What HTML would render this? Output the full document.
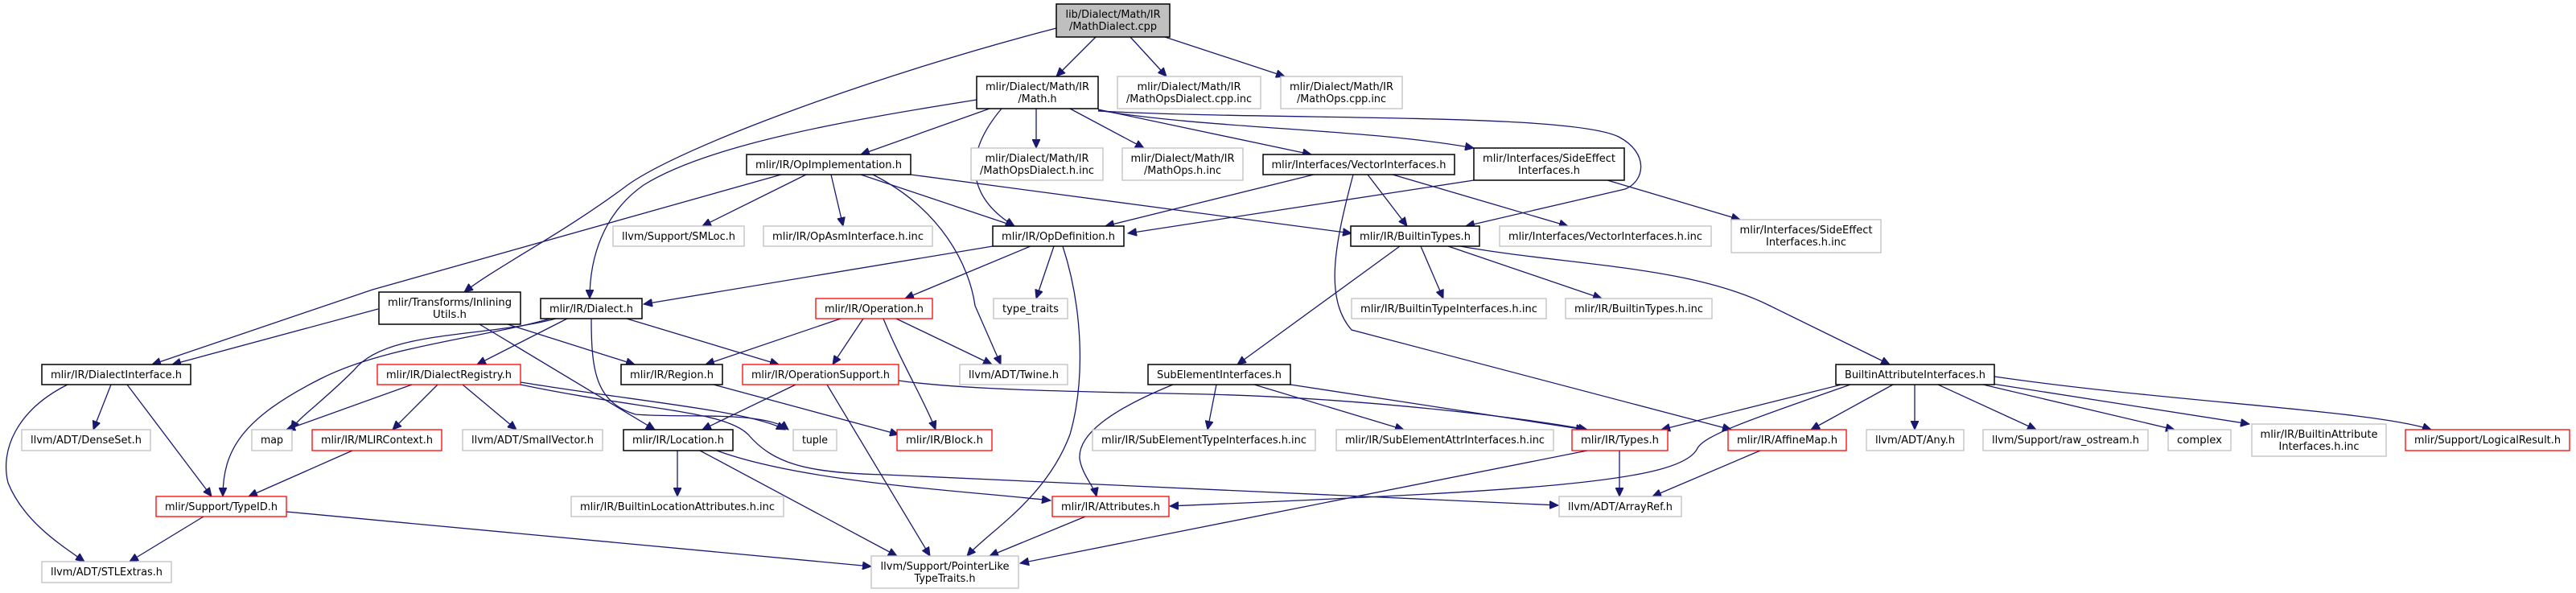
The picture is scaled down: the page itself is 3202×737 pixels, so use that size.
<!DOCTYPE html>
<html><head><meta charset="utf-8"><style>
html,body{margin:0;padding:0;background:#fff;}
svg{display:block;}
text{font-family:"DejaVu Sans","Liberation Sans",sans-serif;font-size:13px;fill:#000;text-anchor:middle;}
.n{fill:#fff;stroke:#bfbfbf;stroke-width:1.3;}
.d{fill:#fff;stroke:#000;stroke-width:1.5;}
.r{fill:#fff;stroke:#ff0000;stroke-width:1.3;}
.e{fill:none;stroke:#191970;stroke-width:1.3;}
</style></head><body>
<svg width="3202" height="737" viewBox="0 0 3202 737" xmlns="http://www.w3.org/2000/svg">
<defs><marker id="a" markerUnits="userSpaceOnUse" markerWidth="12" markerHeight="10" refX="11" refY="5" orient="auto"><path d="M0,0 L11,5 L0,10 z" fill="#191970" stroke="#191970"/></marker></defs>
<g class="edges" marker-end="url(#a)">
<path class="e" d="M1362,46 L1313,95"/>
<path class="e" d="M1405,46 L1450,95"/>
<path class="e" d="M1448,46 L1597,95"/>
<path class="e" d="M1313,35 C1100,90 850,180 780,230 C700,290 620,330 577,363"/>
<path class="e" d="M1230,135 L1070,192"/>
<path class="e" d="M1214,124 C1050,150 880,180 800,230 C750,265 733,320 733,371"/>
<path class="e" d="M1288,135 L1288,184"/>
<path class="e" d="M1330,135 L1422,184"/>
<path class="e" d="M1365,136 L1630,192"/>
<path class="e" d="M1365,137 C1500,160 1700,160 1832,184"/>
<path class="e" d="M1365,138 C1600,150 1950,140 2012,170 C2050,190 2045,225 2020,235 L1822,281"/>
<path class="e" d="M1245,135 C1190,200 1210,250 1261,281"/>
<path class="e" d="M1998,224 L2163,273"/>
<path class="e" d="M971,217 L463,360 L189,453"/>
<path class="e" d="M1002,217 L873,281"/>
<path class="e" d="M1033,217 L1048,281"/>
<path class="e" d="M1070,217 L1261,281"/>
<path class="e" d="M1132,217 L1680,290"/>
<path class="e" d="M1085,217 C1170,260 1205,330 1212,380 L1244,453"/>
<path class="e" d="M1633,217 L1374,281"/>
<path class="e" d="M1700,217 L1749,281"/>
<path class="e" d="M1731,217 L1949,281"/>
<path class="e" d="M1682,217 C1660,300 1645,370 1680,410 L2152,534"/>
<path class="e" d="M1832,224 L1402,290"/>
<path class="e" d="M1740,306 L1538,453"/>
<path class="e" d="M1766,306 L1794,371"/>
<path class="e" d="M1800,306 L1991,371"/>
<path class="e" d="M1815,306 C1950,330 2100,330 2200,380 L2349,453"/>
<path class="e" d="M1234,306 L800,378"/>
<path class="e" d="M1281,306 L1125,371"/>
<path class="e" d="M1310,306 L1288,371"/>
<path class="e" d="M1321,306 C1345,380 1350,470 1330,540 C1300,620 1230,660 1202,691"/>
<path class="e" d="M1045,396 L877,453"/>
<path class="e" d="M1073,396 L1035,453"/>
<path class="e" d="M1114,396 L1233,453"/>
<path class="e" d="M1098,396 C1120,450 1150,500 1163,534"/>
<path class="e" d="M705,396 L593,453"/>
<path class="e" d="M779,396 L968,453"/>
<path class="e" d="M691,396 C600,420 480,410 440,460 C400,500 370,520 362,534"/>
<path class="e" d="M684,396 C600,420 480,430 400,470 C300,520 277,560 277,617"/>
<path class="e" d="M735,396 C735,460 740,500 790,515 C850,520 950,510 980,534"/>
<path class="e" d="M631,403 L789,453"/>
<path class="e" d="M470,384 L214,453"/>
<path class="e" d="M596,403 L814,534"/>
<path class="e" d="M512,478 L356,534"/>
<path class="e" d="M544,478 L488,534"/>
<path class="e" d="M575,478 L642,534"/>
<path class="e" d="M647,475 C800,500 930,510 976,534"/>
<path class="e" d="M647,478 C800,510 900,510 930,540 C960,575 1000,588 1100,590 C1500,610 1800,622 1937,628"/>
<path class="e" d="M891,560 C1000,600 1200,610 1306,622"/>
<path class="e" d="M842,560 L842,617"/>
<path class="e" d="M870,560 L1115,691"/>
<path class="e" d="M989,478 L873,534"/>
<path class="e" d="M1028,478 L1156,691"/>
<path class="e" d="M1117,473 C1200,485 1350,487 1500,490 C1700,495 1900,520 1973,534"/>
<path class="e" d="M1604,478 L1970,534"/>
<path class="e" d="M887,478 L1117,540"/>
<path class="e" d="M253,642 L161,698"/>
<path class="e" d="M356,636 L1083,704"/>
<path class="e" d="M438,560 L309,617"/>
<path class="e" d="M138,478 L116,534"/>
<path class="e" d="M158,478 L263,617"/>
<path class="e" d="M84,478 C20,510 0,560 10,600 C30,650 80,680 105,698"/>
<path class="e" d="M1458,478 C1380,510 1340,540 1342,570 C1345,590 1360,605 1363,617"/>
<path class="e" d="M1512,478 L1501,534"/>
<path class="e" d="M1559,478 L1745,534"/>
<path class="e" d="M2013,560 L2013,617"/>
<path class="e" d="M1973,560 L1268,700"/>
<path class="e" d="M1349,642 L1230,691"/>
<path class="e" d="M2188,560 L2054,617"/>
<path class="e" d="M2289,478 L2065,534"/>
<path class="e" d="M2300,478 C2180,520 2120,540 2110,557 C2090,600 1900,610 1454,629"/>
<path class="e" d="M2353,478 L2251,534"/>
<path class="e" d="M2380,478 L2380,534"/>
<path class="e" d="M2409,478 L2531,534"/>
<path class="e" d="M2465,478 L2703,534"/>
<path class="e" d="M2470,476 L2796,527"/>
<path class="e" d="M2479,468 C2700,500 2950,510 3022,534"/>
</g>
<g class="nodes">
<rect x="1313" y="5" width="141" height="41" fill="#bfbfbf" stroke="#000" stroke-width="1.5"/>
<text x="1383.5" y="22" textLength="118" lengthAdjust="spacingAndGlyphs">lib/Dialect/Math/IR</text>
<text x="1383.5" y="37" textLength="109" lengthAdjust="spacingAndGlyphs">/MathDialect.cpp</text>

<rect class="d" x="1214" y="95" width="151" height="40"/>
<text x="1289.5" y="112" textLength="129" lengthAdjust="spacingAndGlyphs">mlir/Dialect/Math/IR</text>
<text x="1289.5" y="127" textLength="48" lengthAdjust="spacingAndGlyphs">/Math.h</text>

<rect class="n" x="1389" y="95" width="178" height="40"/>
<text x="1478" y="112" textLength="129" lengthAdjust="spacingAndGlyphs">mlir/Dialect/Math/IR</text>
<text x="1478" y="127" textLength="156" lengthAdjust="spacingAndGlyphs">/MathOpsDialect.cpp.inc</text>

<rect class="n" x="1592" y="95" width="151" height="40"/>
<text x="1667.5" y="112" textLength="129" lengthAdjust="spacingAndGlyphs">mlir/Dialect/Math/IR</text>
<text x="1667.5" y="127" textLength="111" lengthAdjust="spacingAndGlyphs">/MathOps.cpp.inc</text>

<rect class="d" x="928" y="192" width="204" height="25"/>
<text x="1030" y="209" textLength="182" lengthAdjust="spacingAndGlyphs">mlir/IR/OpImplementation.h</text>

<rect class="n" x="1207" y="184" width="164" height="40"/>
<text x="1289" y="201" textLength="129" lengthAdjust="spacingAndGlyphs">mlir/Dialect/Math/IR</text>
<text x="1289" y="216" textLength="142" lengthAdjust="spacingAndGlyphs">/MathOpsDialect.h.inc</text>

<rect class="n" x="1395" y="184" width="150" height="40"/>
<text x="1470" y="201" textLength="129" lengthAdjust="spacingAndGlyphs">mlir/Dialect/Math/IR</text>
<text x="1470" y="216" textLength="96" lengthAdjust="spacingAndGlyphs">/MathOps.h.inc</text>

<rect class="d" x="1570" y="192" width="238" height="25"/>
<text x="1689" y="209" textLength="217" lengthAdjust="spacingAndGlyphs">mlir/Interfaces/VectorInterfaces.h</text>

<rect class="d" x="1832" y="184" width="187" height="40"/>
<text x="1925.5" y="201" textLength="165" lengthAdjust="spacingAndGlyphs">mlir/Interfaces/SideEffect</text>
<text x="1925.5" y="216" textLength="77" lengthAdjust="spacingAndGlyphs">Interfaces.h</text>

<rect class="n" x="762" y="281" width="163" height="25"/>
<text x="843.5" y="298" textLength="141" lengthAdjust="spacingAndGlyphs">llvm/Support/SMLoc.h</text>

<rect class="n" x="949" y="281" width="210" height="25"/>
<text x="1054" y="298" textLength="188" lengthAdjust="spacingAndGlyphs">mlir/IR/OpAsmInterface.h.inc</text>

<rect class="d" x="1234" y="281" width="163" height="25"/>
<text x="1315.5" y="298" textLength="141" lengthAdjust="spacingAndGlyphs">mlir/IR/OpDefinition.h</text>

<rect class="d" x="1679" y="281" width="160" height="25"/>
<text x="1759" y="298" textLength="138" lengthAdjust="spacingAndGlyphs">mlir/IR/BuiltinTypes.h</text>

<rect class="n" x="1864" y="281" width="263" height="25"/>
<text x="1995.5" y="298" textLength="241" lengthAdjust="spacingAndGlyphs">mlir/Interfaces/VectorInterfaces.h.inc</text>

<rect class="n" x="2152" y="273" width="186" height="41"/>
<text x="2245" y="290" textLength="165" lengthAdjust="spacingAndGlyphs">mlir/Interfaces/SideEffect</text>
<text x="2245" y="305" textLength="100" lengthAdjust="spacingAndGlyphs">Interfaces.h.inc</text>

<rect class="d" x="471" y="363" width="176" height="40"/>
<text x="559" y="380" textLength="154" lengthAdjust="spacingAndGlyphs">mlir/Transforms/Inlining</text>
<text x="559" y="395" textLength="42" lengthAdjust="spacingAndGlyphs">Utils.h</text>

<rect class="d" x="672" y="371" width="126" height="25"/>
<text x="735" y="388" textLength="104" lengthAdjust="spacingAndGlyphs">mlir/IR/Dialect.h</text>

<rect class="r" x="1014" y="371" width="145" height="25"/>
<text x="1086.5" y="388" textLength="123" lengthAdjust="spacingAndGlyphs">mlir/IR/Operation.h</text>

<rect class="n" x="1235" y="371" width="92" height="25"/>
<text x="1281" y="388" textLength="70" lengthAdjust="spacingAndGlyphs">type_traits</text>

<rect class="n" x="1680" y="371" width="242" height="25"/>
<text x="1801" y="388" textLength="220" lengthAdjust="spacingAndGlyphs">mlir/IR/BuiltinTypeInterfaces.h.inc</text>

<rect class="n" x="1946" y="371" width="182" height="25"/>
<text x="2037" y="388" textLength="160" lengthAdjust="spacingAndGlyphs">mlir/IR/BuiltinTypes.h.inc</text>

<rect class="d" x="52" y="453" width="185" height="25"/>
<text x="144.5" y="470" textLength="163" lengthAdjust="spacingAndGlyphs">mlir/IR/DialectInterface.h</text>

<rect class="r" x="469" y="453" width="178" height="25"/>
<text x="558" y="470" textLength="156" lengthAdjust="spacingAndGlyphs">mlir/IR/DialectRegistry.h</text>

<rect class="d" x="772" y="453" width="126" height="25"/>
<text x="835" y="470" textLength="104" lengthAdjust="spacingAndGlyphs">mlir/IR/Region.h</text>

<rect class="r" x="923" y="453" width="194" height="25"/>
<text x="1020" y="470" textLength="172" lengthAdjust="spacingAndGlyphs">mlir/IR/OperationSupport.h</text>

<rect class="n" x="1193" y="453" width="134" height="25"/>
<text x="1260" y="470" textLength="112" lengthAdjust="spacingAndGlyphs">llvm/ADT/Twine.h</text>

<rect class="d" x="1427" y="453" width="177" height="25"/>
<text x="1515.5" y="470" textLength="155" lengthAdjust="spacingAndGlyphs">SubElementInterfaces.h</text>

<rect class="d" x="2282" y="453" width="197" height="25"/>
<text x="2380.5" y="470" textLength="175" lengthAdjust="spacingAndGlyphs">BuiltinAttributeInterfaces.h</text>

<rect class="n" x="27" y="534" width="160" height="26"/>
<text x="107" y="551" textLength="138" lengthAdjust="spacingAndGlyphs">llvm/ADT/DenseSet.h</text>

<rect class="n" x="313" y="534" width="50" height="26"/>
<text x="338" y="551" textLength="28" lengthAdjust="spacingAndGlyphs">map</text>

<rect class="r" x="388" y="534" width="161" height="26"/>
<text x="468.5" y="551" textLength="139" lengthAdjust="spacingAndGlyphs">mlir/IR/MLIRContext.h</text>

<rect class="n" x="575" y="534" width="174" height="26"/>
<text x="662" y="551" textLength="152" lengthAdjust="spacingAndGlyphs">llvm/ADT/SmallVector.h</text>

<rect class="d" x="775" y="534" width="136" height="26"/>
<text x="843" y="551" textLength="114" lengthAdjust="spacingAndGlyphs">mlir/IR/Location.h</text>

<rect class="n" x="986" y="534" width="54" height="26"/>
<text x="1013" y="551" textLength="32" lengthAdjust="spacingAndGlyphs">tuple</text>

<rect class="r" x="1115" y="534" width="118" height="26"/>
<text x="1174" y="551" textLength="96" lengthAdjust="spacingAndGlyphs">mlir/IR/Block.h</text>

<rect class="n" x="1358" y="534" width="277" height="26"/>
<text x="1496.5" y="551" textLength="255" lengthAdjust="spacingAndGlyphs">mlir/IR/SubElementTypeInterfaces.h.inc</text>

<rect class="n" x="1661" y="534" width="270" height="26"/>
<text x="1796" y="551" textLength="248" lengthAdjust="spacingAndGlyphs">mlir/IR/SubElementAttrInterfaces.h.inc</text>

<rect class="r" x="1954" y="534" width="119" height="26"/>
<text x="2013.5" y="551" textLength="97" lengthAdjust="spacingAndGlyphs">mlir/IR/Types.h</text>

<rect class="r" x="2148" y="534" width="147" height="26"/>
<text x="2221.5" y="551" textLength="125" lengthAdjust="spacingAndGlyphs">mlir/IR/AffineMap.h</text>

<rect class="n" x="2320" y="534" width="121" height="26"/>
<text x="2380.5" y="551" textLength="99" lengthAdjust="spacingAndGlyphs">llvm/ADT/Any.h</text>

<rect class="n" x="2465" y="534" width="205" height="26"/>
<text x="2567.5" y="551" textLength="183" lengthAdjust="spacingAndGlyphs">llvm/Support/raw_ostream.h</text>

<rect class="n" x="2695" y="534" width="78" height="26"/>
<text x="2734" y="551" textLength="56" lengthAdjust="spacingAndGlyphs">complex</text>

<rect class="n" x="2799" y="527" width="167" height="40"/>
<text x="2882.5" y="544" textLength="146" lengthAdjust="spacingAndGlyphs">mlir/IR/BuiltinAttribute</text>
<text x="2882.5" y="559" textLength="100" lengthAdjust="spacingAndGlyphs">Interfaces.h.inc</text>

<rect class="r" x="2990" y="534" width="204" height="26"/>
<text x="3092" y="551" textLength="182" lengthAdjust="spacingAndGlyphs">mlir/Support/LogicalResult.h</text>

<rect class="r" x="194" y="617" width="162" height="25"/>
<text x="275" y="634" textLength="140" lengthAdjust="spacingAndGlyphs">mlir/Support/TypeID.h</text>

<rect class="n" x="710" y="617" width="264" height="25"/>
<text x="842" y="634" textLength="242" lengthAdjust="spacingAndGlyphs">mlir/IR/BuiltinLocationAttributes.h.inc</text>

<rect class="r" x="1308" y="617" width="145" height="25"/>
<text x="1380.5" y="634" textLength="123" lengthAdjust="spacingAndGlyphs">mlir/IR/Attributes.h</text>

<rect class="n" x="1938" y="617" width="152" height="25"/>
<text x="2014" y="634" textLength="130" lengthAdjust="spacingAndGlyphs">llvm/ADT/ArrayRef.h</text>

<rect class="n" x="52" y="698" width="161" height="26"/>
<text x="132.5" y="715" textLength="139" lengthAdjust="spacingAndGlyphs">llvm/ADT/STLExtras.h</text>

<rect class="n" x="1083" y="691" width="183" height="40"/>
<text x="1174.5" y="708" textLength="160" lengthAdjust="spacingAndGlyphs">llvm/Support/PointerLike</text>
<text x="1174.5" y="723" textLength="76" lengthAdjust="spacingAndGlyphs">TypeTraits.h</text>
</g>
</svg>
</body></html>
